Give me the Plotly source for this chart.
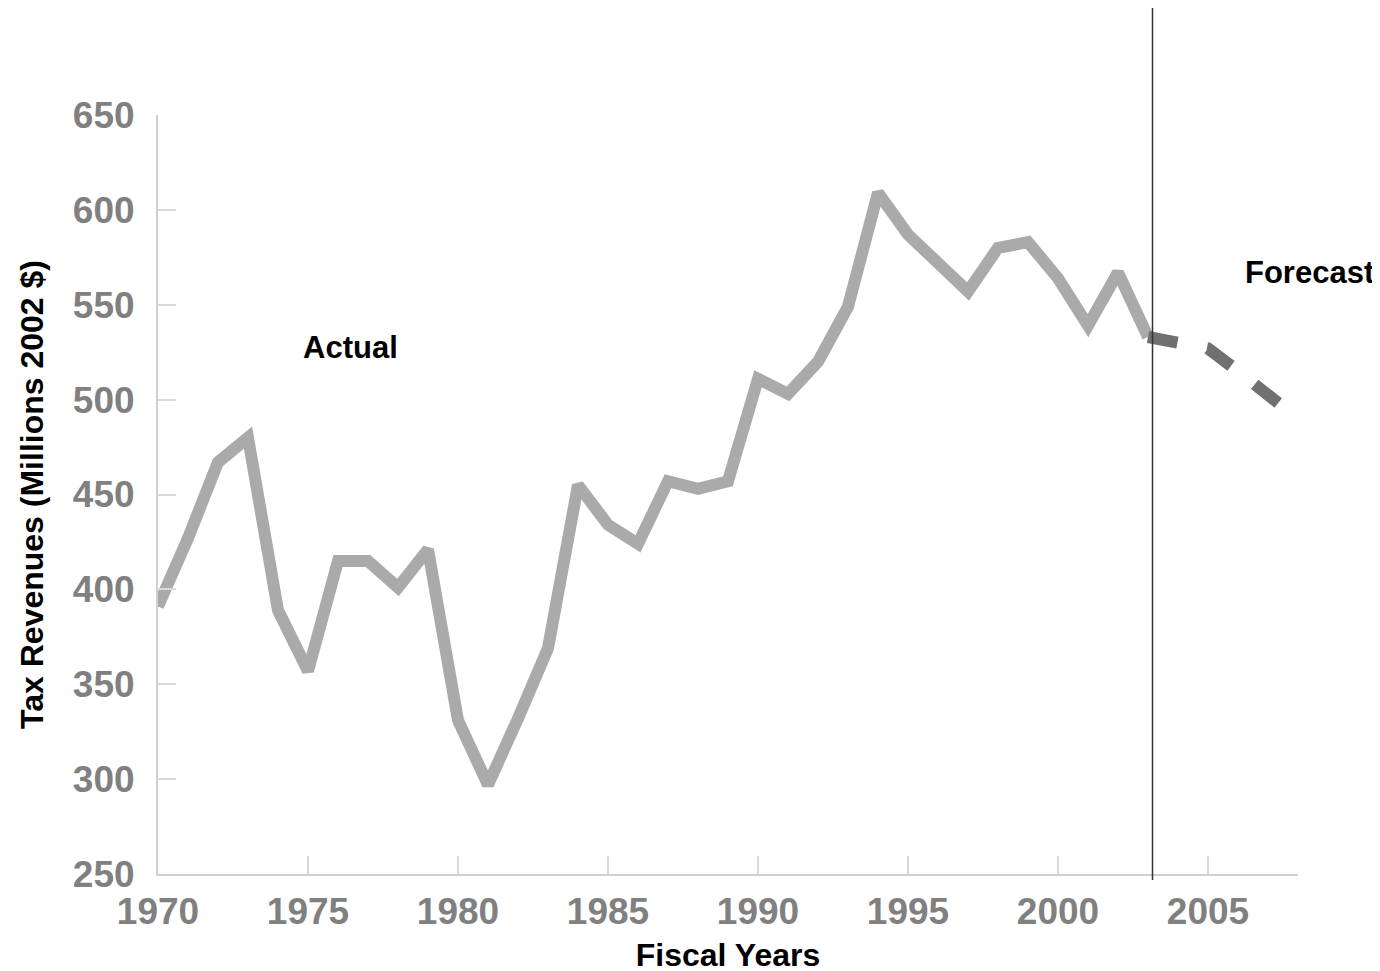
import plotly.graph_objects as go

years_actual = list(range(1970, 2004))
revenue_actual = [391, 427, 467, 480, 389, 357, 415, 415, 401, 421,
                  331, 297, 332, 369, 455, 434, 424, 457, 453, 457,
                  511, 503, 520, 549, 609, 587, 572, 557, 580, 583,
                  564, 539, 567, 533]

years_forecast = [2003, 2004, 2005, 2006, 2007, 2008]
revenue_forecast = [533, 530, 527, 515, 502, 490]

x_ticks = [1970, 1975, 1980, 1985, 1990, 1995, 2000, 2005]
y_ticks = [250, 300, 350, 400, 450, 500, 550, 600, 650]

divider_year = 2003.15

FONT = "Liberation Sans, Arial, sans-serif"

fig = go.Figure()
fig.add_trace(go.Scatter(
    x=years_actual, y=revenue_actual, mode="lines",
    line=dict(color="#aaaaaa", width=12), showlegend=False, cliponaxis=False))
fig.add_trace(go.Scatter(
    x=years_forecast, y=revenue_forecast, mode="lines",
    line=dict(color="#707070", width=12, dash="30px,30px"), showlegend=False, cliponaxis=False))

fig.add_shape(type="line", xref="x", yref="paper",
              x0=divider_year, x1=divider_year, y0=-0.008, y1=1.141,
              line=dict(color="#333333", width=1.5))

fig.add_annotation(x=1976.4, y=527.7, text="<b>Actual</b>", showarrow=False,
                   font=dict(family=FONT, size=31, color="black"))
fig.add_annotation(xref="paper", x=1.0105, xanchor="center", y=567, text="<b>Forecast</b>",
                   showarrow=False, font=dict(family=FONT, size=31, color="black"))

fig.update_layout(
    width=1380, height=971,
    margin=dict(l=150, r=90, t=107, b=105),
    paper_bgcolor="white", plot_bgcolor="white",
    font=dict(family=FONT),
    xaxis=dict(
        range=[1970, 2008], tickvals=x_ticks, showgrid=False, zeroline=False,
        showline=True, linecolor="#d0d0d0", linewidth=2,
        ticks="inside", ticklen=18, tickcolor="#d9d9d9", tickwidth=2,
        tickfont=dict(family=FONT, size=37, color="#808080", weight="bold"),
        ticklabelstandoff=4,
        title=dict(text="<b>Fiscal Years</b>", font=dict(family=FONT, size=32, color="black"), standoff=12),
    ),
    yaxis=dict(
        range=[250, 650], tickvals=y_ticks, showgrid=False, zeroline=False,
        showline=True, linecolor="#d0d0d0", linewidth=2,
        ticks="inside", ticklen=18, tickcolor="#d9d9d9", tickwidth=2,
        tickfont=dict(family=FONT, size=37, color="#808080", weight="bold"),
        ticklabelstandoff=14,
        title=dict(text="<b>Tax Revenues (Millions 2002 $)</b>", font=dict(family=FONT, size=32, color="black"), standoff=20),
    ),
)

fig.write_html("out.html")
